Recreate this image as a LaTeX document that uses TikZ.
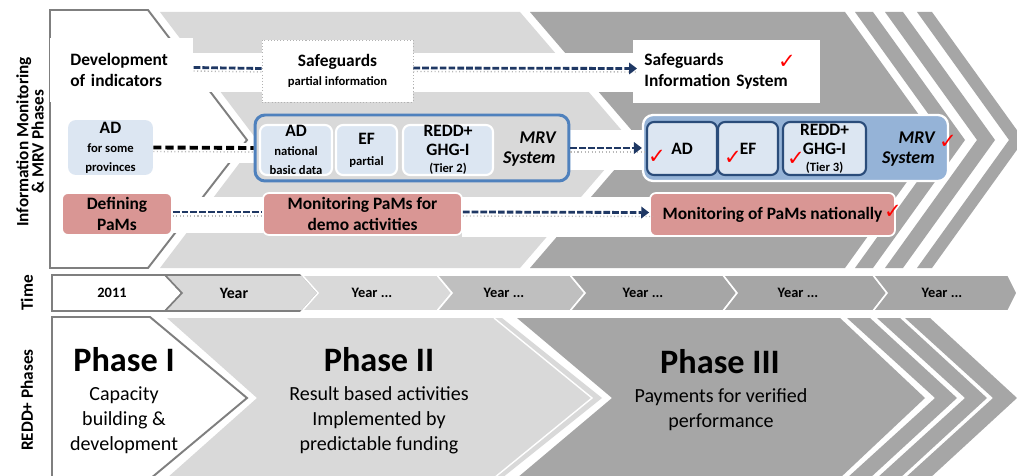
\documentclass[tikz,border=0pt]{standalone}
\usepackage{fontspec}
\setmainfont{Carlito}
\newfontfamily\symfnt{DejaVu Sans}
\usetikzlibrary{arrows.meta}
\setlength{\parindent}{0pt}
\definecolor{lgray}{HTML}{D9D9D9}
\definecolor{mgray}{HTML}{BFBFBF}
\definecolor{dgray}{HTML}{A6A6A6}
\definecolor{ogray}{HTML}{7F7F7F}
\definecolor{lblue}{HTML}{DCE6F2}
\definecolor{mblue}{HTML}{95B3D7}
\definecolor{bblue}{HTML}{4F81BD}
\definecolor{nblue}{HTML}{2A4C7A}
\definecolor{pinkc}{HTML}{D99694}
\definecolor{navyc}{HTML}{1F3864}
\newcommand\lblfont{\bfseries\fontsize{9.9}{11.8}\selectfont}
\newcommand\smfont{\bfseries\fontsize{7.2}{8.2}\selectfont}
\tikzset{
  box/.style={inner sep=0pt, align=center, font=\lblfont},
  whitebox/.style={box, fill=white},
  bluebox/.style={box, fill=lblue, rounded corners=0.16cm},
  grpII/.style={box, fill=lgray, draw=bblue, line width=1.7pt, rounded corners=0.2cm},
  grpIII/.style={box, fill=mblue, draw=white, line width=1.3pt, rounded corners=0.2cm},
  inII/.style={box, fill=lblue, draw=white, line width=1.2pt, rounded corners=0.14cm},
  inIII/.style={box, fill=lblue, draw=nblue, line width=1.2pt, rounded corners=0.14cm},
  pinkbox/.style={box, fill=pinkc, draw=white, line width=1pt, rounded corners=0.12cm},
  mrvlbl/.style={inner sep=0pt, align=right, anchor=east, font=\bfseries\itshape\fontsize{10.2}{11.8}\selectfont},
  chk/.style={inner sep=0pt, text=red, font=\symfnt\fontsize{12}{12}\selectfont},
  conn/.style={draw=navyc, line width=1.6pt, dash pattern=on 3.8pt off 1.2pt},
  arrowed/.style={-{Triangle[length=4.5pt,width=6.5pt]}},
  blk/.style={draw=black, line width=2.2pt, dash pattern=on 4.6pt off 2.3pt},
  shdw/.style={draw=gray!55, line width=0.8pt, dash pattern=on 0.6pt off 1.4pt},
  band/.style={fill=white},
  timelbl/.style={inner sep=0pt, font=\bfseries\fontsize{8.2}{9}\selectfont},
  sidelbl/.style={inner sep=0pt, rotate=90, align=center, font=\bfseries\fontsize{9.8}{8.8}\selectfont},
  phasettl/.style={inner sep=0pt, font=\bfseries\fontsize{19.5}{22}\selectfont},
  phasetxt/.style={inner sep=0pt, align=center, font=\fontsize{11.4}{14.2}\selectfont}
}
\begin{document}
\begin{tikzpicture}[x=0.02cm,y=-0.02cm]
\clip (0,0) rectangle (1017,476);
\fill[white] (0,0) rectangle (1017,476);

% ---------- top section: chevrons ----------
\fill[lgray] (160,12) -- (520,12) -- (630,140) -- (520,268) -- (160,268) -- (257,140) -- cycle;
\fill[dgray] (530,12) -- (845,12) -- (937,140) -- (845,268) -- (530,268) -- (640,140) -- cycle;
\foreach \a/\b/\c/\d in {855/873/947/965, 885/903/977/995, 917/932/1009/1024}
  \fill[dgray] (\a,12) -- (\b,12) -- (\d,140) -- (\b,268) -- (\a,268) -- (\c,140) -- cycle;
\filldraw[fill=white, draw=ogray, line width=1.1pt] (50,10) -- (148,10) -- (247,140) -- (148,268) -- (50,268) -- cycle;

% white bands behind connectors
\fill[band] (192,53) rectangle (263,92);
\fill[band] (413,53) rectangle (633,92);
\fill[band] (147,143) rectangle (257,163);
\fill[band] (569,130) rectangle (645,170);
\fill[band] (172,197) rectangle (263,233);
\fill[band] (462,197) rectangle (667,237);

% ---------- top section: boxes ----------
\node[whitebox, anchor=west, minimum width=2.86cm, minimum height=1.28cm, text width=2.06cm, inner xsep=0.4cm, align=left] (dev) at (50,70) {Development\\of indicators};
\node[whitebox, draw=gray!60, line width=0.5pt, dash pattern=on 0.6pt off 1.2pt, minimum width=3.02cm, minimum height=1.24cm] (sg1) at (337.5,71) {Safeguards\\[-1pt]\smfont partial information};
\node[whitebox, anchor=west, minimum width=3.74cm, minimum height=1.26cm, text width=3.3cm, inner xsep=0.22cm, align=left] (sg2) at (633,71.5) {Safeguards\\Information System};

\node[bluebox, minimum width=1.7cm, minimum height=1.1cm] (adp) at (110.5,147.5) {AD\\[-1pt]\smfont for some\\[-1pt]\smfont provinces};

\node[grpII, minimum width=6.28cm, minimum height=1.32cm] (mrv2) at (412,148) {};
\node[inII, minimum width=1.44cm, minimum height=1cm] (ad2) at (296,150) {AD\\[-1pt]\smfont national\\[-1pt]\smfont basic data};
\node[inII, minimum width=1.22cm, minimum height=1cm] (ef2) at (366.5,150) {EF\\\smfont partial};
\node[inII, minimum width=1.8cm, minimum height=1cm] (gh2) at (448,150) {REDD+\\[-1pt]GHG-I\\[-2pt]\smfont (Tier 2)};
\node[mrvlbl] (mt2) at (556,149) {MRV\\System};

\node[grpIII, minimum width=6.1cm, minimum height=1.32cm] (mrv3) at (795.5,148) {};
\node[inIII, minimum width=1.4cm, minimum height=1.06cm] (ad3) at (682,148.5) {AD};
\node[inIII, minimum width=1.2cm, minimum height=1.06cm] (ef3) at (748,148.5) {EF};
\node[inIII, minimum width=1.66cm, minimum height=1.06cm] (gh3) at (824.5,148.5) {REDD+\\[-1pt]GHG-I\\[-2pt]\smfont (Tier 3)};
\node[mrvlbl] (mt3) at (935,149) {MRV\\System};

\node[pinkbox, minimum width=2.2cm, minimum height=0.84cm] (def) at (117,214) {Defining\\PaMs};
\node[pinkbox, minimum width=3.98cm, minimum height=0.84cm] (mon1) at (362.5,214) {Monitoring PaMs for\\demo activities};
\node[pinkbox, minimum width=4.9cm, minimum height=0.86cm] (mon2) at (772.5,214.5) {Monitoring of PaMs nationally};

% check marks
\node[chk] (c1) at (787,62) {✓};
\node[chk] (c2) at (657,157) {✓};
\node[chk] (c3) at (733,158) {✓};
\node[chk] (c4) at (796,159) {✓};
\node[chk] (c5) at (948,142) {✓};
\node[chk] (c6) at (893,212) {✓};

% connectors
\draw[shdw] ([yshift=-0.02cm]dev.east) -- ([yshift=-0.02cm]sg1.west);
\draw[conn] ([yshift=0.05cm]dev.east) -- ([yshift=0.05cm]sg1.west);
\draw[shdw] ([yshift=-0.01cm]sg1.east) -- ([yshift=-0.01cm,xshift=0.1cm]sg2.west);
\draw[conn, arrowed, shorten >=-0.08cm] ([yshift=0.06cm]sg1.east) -- ([yshift=0.06cm]sg2.west);
\draw[shdw] ([yshift=-0.08cm]adp.east) -- ([yshift=-0.08cm]mrv2.west);
\draw[blk] (adp.east) -- (mrv2.west);
\draw[shdw] ([yshift=-0.08cm]mrv2.east) -- ([yshift=-0.08cm,xshift=0.08cm]mrv3.west);
\draw[conn, arrowed] (mrv2.east) -- (mrv3.west);
\draw[shdw] ([yshift=-0.04cm]def.east) -- ([yshift=-0.04cm]mon1.west);
\draw[conn] ([yshift=0.04cm]def.east) -- ([yshift=0.04cm]mon1.west);
\draw[shdw] ([yshift=-0.04cm]mon1.east) -- ([yshift=-0.04cm,xshift=0.08cm]mon2.west);
\draw[conn, arrowed] ([yshift=0.04cm]mon1.east) -- ([yshift=0.04cm]mon2.west);

% ---------- time row ----------
\filldraw[fill=white, draw=ogray, line width=0.9pt] (52,275) -- (165,275) -- (182,293) -- (165,311) -- (52,311) -- cycle;
\filldraw[fill=lgray, draw=ogray, line width=0.9pt] (165,275) -- (302,275) -- (318,293) -- (302,311) -- (165,311) -- (182,293) -- cycle;
\filldraw[fill=lgray, draw=white, line width=0.9pt] (302,275) -- (437,275) -- (452,293) -- (437,311) -- (302,311) -- (318,293) -- cycle;
\filldraw[fill=mgray, draw=white, line width=0.9pt] (437,275) -- (570,275) -- (585,293) -- (570,311) -- (437,311) -- (452,293) -- cycle;
\filldraw[fill=dgray, draw=white, line width=0.9pt] (570,275) -- (723,275) -- (737,293) -- (723,311) -- (570,311) -- (585,293) -- cycle;
\filldraw[fill=dgray, draw=white, line width=0.9pt] (723,275) -- (873,275) -- (887,293) -- (873,311) -- (723,311) -- (737,293) -- cycle;
\filldraw[fill=dgray, draw=white, line width=0.9pt] (873,275) -- (1008,275) -- (1017,293) -- (1008,311) -- (873,311) -- (887,293) -- cycle;
\node[timelbl] (t1) at (112,293) {2011};
\node[timelbl, font=\bfseries\fontsize{9}{10}\selectfont] (t2) at (234,293) {Year};
\node[timelbl] (t3) at (372,293) {Year ...};
\node[timelbl] (t4) at (504,293) {Year ...};
\node[timelbl] (t5) at (643,293) {Year ...};
\node[timelbl] (t6) at (798,293) {Year ...};
\node[timelbl] (t7) at (942,293) {Year ...};

% ---------- REDD+ phases ----------
\fill[dgray] (517,318) -- (840,318) -- (925,398) -- (840,478) -- (517,478) -- (612,398) -- cycle;
\foreach \a/\b/\c/\d in {847/870/935/957, 877/900/965/987, 905/930/993/1017}
  \fill[dgray] (\a,318) -- (\b,318) -- (\d,398) -- (\b,478) -- (\a,478) -- (\c,398) -- cycle;
\fill[lgray] (167,318) -- (502,318) -- (602,398) -- (502,478) -- (167,478) -- (257,398) -- cycle;
\draw[white, line width=0.8pt] (494,318) -- (592,398) -- (494,478);
\filldraw[fill=white, draw=ogray, line width=1.1pt] (52,317) -- (150,317) -- (247,398) -- (150,479) -- (52,479) -- cycle;

\node[phasettl] (p1) at (124,360) {Phase I};
\node[phasetxt] (p1t) at (124,420) {Capacity\\building \&\\development};
\node[phasettl] (p2) at (379,360) {Phase II};
\node[phasetxt] (p2t) at (379,420) {Result based activities\\Implemented by\\predictable funding};
\node[phasettl] (p3) at (720,362) {Phase III};
\node[phasetxt] (p3t) at (721,410) {Payments for verified\\performance};

% ---------- side labels ----------
\node[sidelbl] (s1) at (30,142) {Information Monitoring\\\& MRV Phases};
\node[sidelbl] (s2) at (27,293) {Time};
\node[sidelbl] (s3) at (27,400) {REDD+ Phases};
\end{tikzpicture}
\end{document}
